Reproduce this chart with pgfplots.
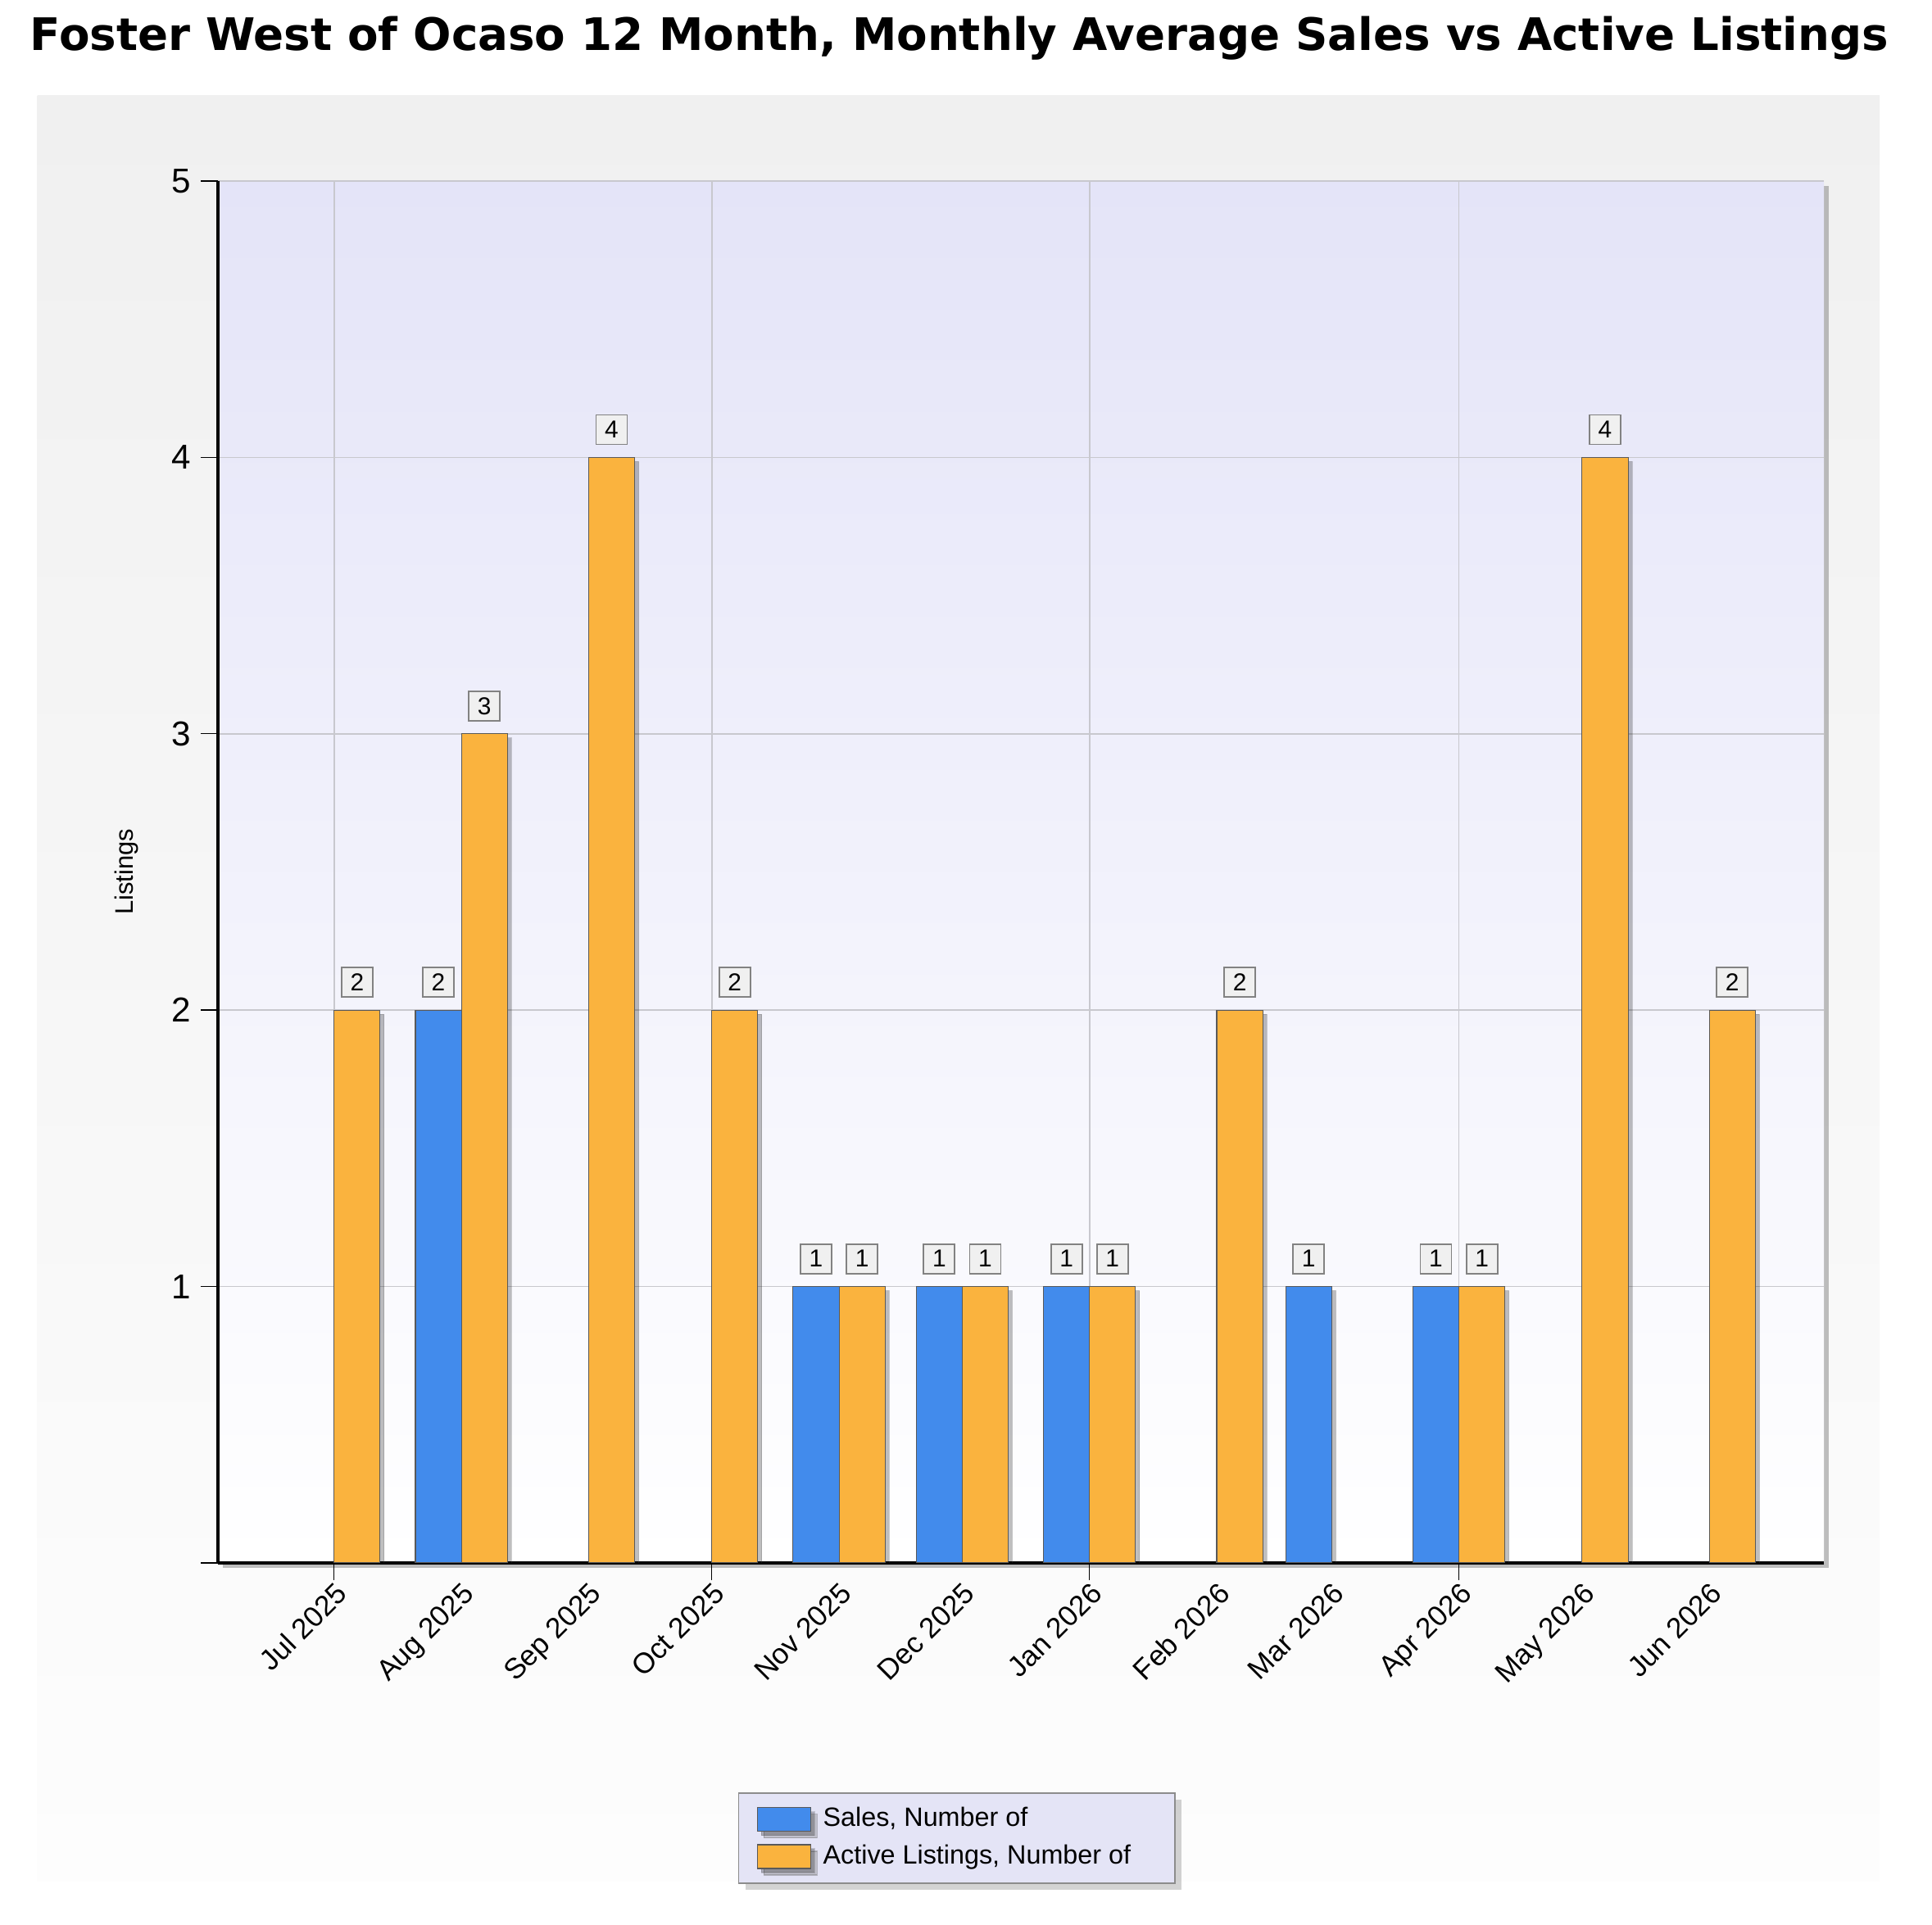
\documentclass[border=0pt]{standalone}
\usepackage{pgfplots}
\pgfplotsset{compat=1.18}
\usepackage{fontspec}
\setmainfont{Liberation Sans}
\newfontfamily\titlefont{DejaVu Sans}
\usetikzlibrary{shadows}
\definecolor{salesblue}{RGB}{66,139,236}
\definecolor{listorange}{RGB}{250,179,62}
\definecolor{lav}{RGB}{228,228,248}
\definecolor{panelgray}{RGB}{240,240,240}
\definecolor{panelbottom}{RGB}{253,253,253}
\definecolor{gridgray}{RGB}{200,200,206}
\definecolor{legfill}{RGB}{228,228,246}
\definecolor{boxfill}{RGB}{240,240,240}
\definecolor{boxdraw}{RGB}{130,130,130}
\begin{document}
\begin{tikzpicture}
\useasboundingbox (-26.6mm,-44.2mm) rectangle (209.2mm,190.8mm);
\shade[top color=panelgray, bottom color=panelbottom] (-22.03mm,-38.9mm) rectangle (202.8mm,179.1mm);
\node[anchor=base, inner sep=0pt] at (90.5mm,184.6mm) {\resizebox{226.8mm}{!}{\titlefont\bfseries Foster West of Ocaso 12 Month, Monthly Average Sales vs Active Listings}};
\fill[black!55, opacity=0.45] (0.6mm,-0.6mm) rectangle (196.6mm,168.1mm);
\begin{axis}[
  at={(0,0)}, anchor=south west,
  scale only axis, width=196mm, height=168.7mm,
  xmin=-28.3, xmax=362.9, ymin=0, ymax=5,
  axis lines=left, axis line style={line width=0.9pt, -},
  axis background/.style={top color=lav, bottom color=white},
  tick align=outside,
  major tick length=2.1mm,
  tick style={black, line width=0.4pt},
  ytick={0,1,2,3,4,5}, yticklabels={,1,2,3,4,5},
  ymajorgrids, grid style={gridgray, line width=0.5pt},
  xtick={0,31,62,92,123,153,184,215,243,274,304,335},
  xticklabels={Jul 2025,Aug 2025,Sep 2025,Oct 2025,Nov 2025,Dec 2025,Jan 2026,Feb 2026,Mar 2026,Apr 2026,May 2026,Jun 2026},
  x tick style={draw=none},
  extra x ticks={0,92,184,274},
  extra x tick labels={},
  extra x tick style={xmajorgrids=true, x tick style={draw=black, line width=0.4pt}},
  xticklabel style={font=\fontsize{10}{12}\selectfont, rotate=45, anchor=north east, inner sep=0pt},
  yticklabel style={font=\fontsize{12}{14}\selectfont},
  ylabel={Listings},
  every axis y label/.style={at={(axis description cs:-0.05255,0.5)}, rotate=90, anchor=base, font=\fontsize{8.8}{10}\selectfont},
  /pgf/number format/assume math mode=true,
  ybar, bar width=11.2,
  nodes near coords,
  nodes near coords style={font=\fontsize{8.5}{9}\selectfont, draw=boxdraw, fill=boxfill, line width=0.5pt, inner sep=0pt, minimum width=3.8mm, minimum height=3.6mm, yshift=1.5mm},
  legend style={at={(axis description cs:0.3238,-0.166)}, anchor=north west,
     fill=legfill, draw=black!45, line width=0.5pt,
     inner xsep=2.2mm, inner ysep=1.75mm,
     row sep=1.5mm, column sep=1.5mm,
     font=\fontsize{9.2}{11}\selectfont,
     nodes={inner sep=0pt, text height=2.35mm, text depth=0.65mm},
     drop shadow={shadow xshift=0.8mm, shadow yshift=-0.8mm, opacity=0.35}},
  legend cell align=left,
  legend image code/.code={\draw[#1] (0mm,-1.45mm) rectangle (6.5mm,1.45mm);},
]
\addplot[fill=salesblue, draw=black!65, line width=0.3pt, bar shift=-5.6,
  drop shadow={shadow xshift=0.5mm, shadow yshift=-0.5mm, opacity=0.25, fill=black}]
  coordinates {(31,2) (123,1) (153,1) (184,1) (243,1) (274,1)};
\addlegendentry{Sales, Number of}
\addplot[fill=listorange, draw=black!65, line width=0.3pt, bar shift=5.6,
  drop shadow={shadow xshift=0.5mm, shadow yshift=-0.5mm, opacity=0.25, fill=black}]
  coordinates {(0,2) (31,3) (62,4) (92,2) (123,1) (153,1) (184,1) (215,2) (274,1) (304,4) (335,2)};
\addlegendentry{Active Listings, Number of\hspace*{3.2mm}}
\end{axis}
\end{tikzpicture}
\end{document}
